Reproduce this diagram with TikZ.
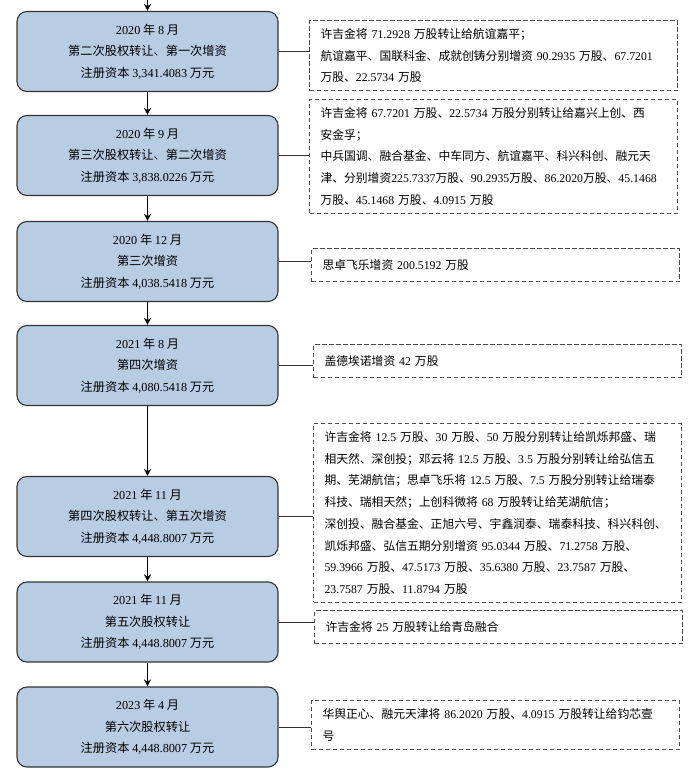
\documentclass[tikz,border=0pt]{standalone}
\usepackage{fontspec}
\setmainfont{Liberation Serif}
\newfontfamily\cjk{Noto Sans CJK SC}
\usetikzlibrary{arrows.meta}
\definecolor{stageblue}{HTML}{B8CCE4}
\newcommand\shu[1]{{\rmfamily #1}}

\begin{document}
\begin{tikzpicture}[x=1pt,y=-1pt,
    stage/.style={draw=black!80,line width=1.1pt,fill=stageblue,rounded corners=10pt,
      minimum width=261pt,minimum height=80pt,align=center,inner sep=0pt,
      font=\cjk\fontsize{12.2}{21.7}\selectfont},
    note/.style={draw=black!70,dash pattern=on 4.5pt off 2.5pt,line width=1pt,anchor=north west,
      text width=346pt,align=left,inner xsep=11pt,inner ysep=8pt,minimum height=33pt,
      font=\cjk\fontsize{11.8}{21.7}\selectfont},
    flow/.style={-{Stealth[length=7pt,width=7pt]},line width=1.3pt},
    link/.style={draw=black!80,line width=1pt}]
  \useasboundingbox (0,0) rectangle (700,779);

  % stages
  \node[stage] (s1) at (147.5,51.5) {\shu{2020} 年 \shu{8} 月\\第二次股权转让、第一次增资\\注册资本 \shu{3,341.4083} 万元};
  \node[stage] (s2) at (147.5,155.5) {\shu{2020} 年 \shu{9} 月\\第三次股权转让、第二次增资\\注册资本 \shu{3,838.0226} 万元};
  \node[stage] (s3) at (147.5,261.5) {\shu{2020} 年 \shu{12} 月\\第三次增资\\注册资本 \shu{4,038.5418} 万元};
  \node[stage] (s4) at (147.5,365.5) {\shu{2021} 年 \shu{8} 月\\第四次增资\\注册资本 \shu{4,080.5418} 万元};
  \node[stage] (s5) at (147.5,516.5) {\shu{2021} 年 \shu{11} 月\\第四次股权转让、第五次增资\\注册资本 \shu{4,448.8007} 万元};
  \node[stage] (s6) at (147.5,622) {\shu{2021} 年 \shu{11} 月\\第五次股权转让\\注册资本 \shu{4,448.8007} 万元};
  \node[stage] (s7) at (147.5,727) {\shu{2023} 年 \shu{4} 月\\第六次股权转让\\注册资本 \shu{4,448.8007} 万元};

  % notes
  \node[note] (n1) at (309,20) {许吉金将 \shu{71.2928} 万股转让给航谊嘉平；\\
    航谊嘉平、国联科金、成就创铸分别增资 \shu{90.2935} 万股、\shu{67.7201}\\
    万股、\shu{22.5734} 万股};
  \node[note] (n2) at (309,99) {许吉金将 \shu{67.7201} 万股、\shu{22.5734} 万股分别转让给嘉兴上创、西\\
    安金孚；\\
    中兵国调、融合基金、中车同方、航谊嘉平、科兴科创、融元天\\
    津、分别增资\shu{225.7337}万股、\shu{90.2935}万股、\shu{86.2020}万股、\shu{45.1468}\\
    万股、\shu{45.1468} 万股、\shu{4.0915} 万股};
  \node[note] (n3) at (311,248) {思卓飞乐增资 \shu{200.5192} 万股};
  \node[note] (n4) at (313,344) {盖德埃诺增资 \shu{42} 万股};
  \node[note] (n5) at (313,423) {许吉金将 \shu{12.5} 万股、\shu{30} 万股、\shu{50} 万股分别转让给凯烁邦盛、瑞\\
    相天然、深创投；邓云将 \shu{12.5} 万股、\shu{3.5} 万股分别转让给弘信五\\
    期、芜湖航信；思卓飞乐将 \shu{12.5} 万股、\shu{7.5} 万股分别转让给瑞泰\\
    科技、瑞相天然；上创科微将 \shu{68} 万股转让给芜湖航信；\\
    深创投、融合基金、正旭六号、宇鑫润泰、瑞泰科技、科兴科创、\\
    凯烁邦盛、弘信五期分别增资 \shu{95.0344} 万股、\shu{71.2758} 万股、\\
    \shu{59.3966} 万股、\shu{47.5173} 万股、\shu{35.6380} 万股、\shu{23.7587} 万股、\\
    \shu{23.7587} 万股、\shu{11.8794} 万股};
  \node[note] (n6) at (314,610) {许吉金将 \shu{25} 万股转让给青岛融合};
  \node[note] (n7) at (311,700) {华舆正心、融元天津将 \shu{86.2020} 万股、\shu{4.0915} 万股转让给钧芯壹\\号};

  % arrows
  \coordinate (top) at (147.5,0);
  \draw[flow] (top) -- (s1.north);
  \foreach \a/\b in {s1/s2,s2/s3,s3/s4,s4/s5,s5/s6,s6/s7}
    \draw[flow] (\a.south) -- (\b.north);

  % links to notes
  \foreach \i in {1,...,7}
    \draw[link] (s\i.east) -- (s\i.east -| n\i.west);
\end{tikzpicture}
\end{document}
